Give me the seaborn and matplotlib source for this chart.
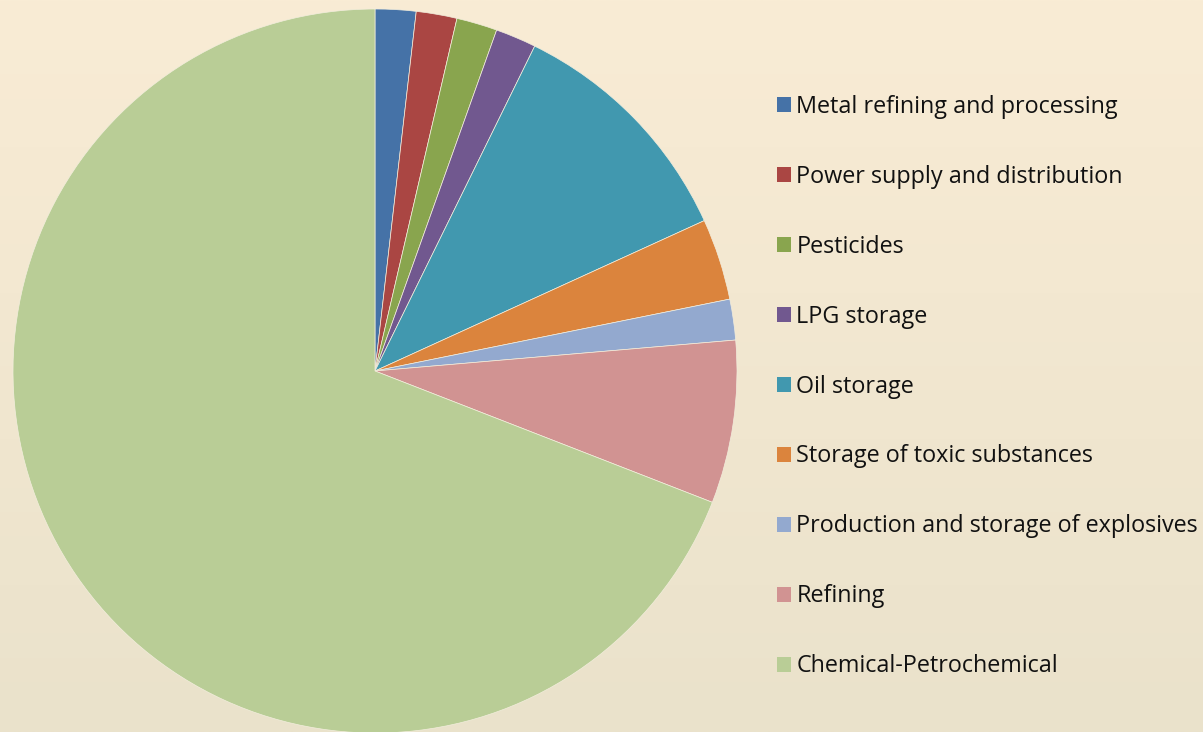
import numpy as np
import matplotlib
matplotlib.use("Agg")
import matplotlib.pyplot as plt
from matplotlib.patches import Patch
import seaborn as sns

categories = [
    "Metal refining and processing",
    "Power supply and distribution",
    "Pesticides",
    "LPG storage",
    "Oil storage",
    "Storage of toxic substances",
    "Production and storage of explosives",
    "Refining",
    "Chemical-Petrochemical",
]
counts = [1, 1, 1, 1, 6, 2, 1, 4, 38]
slice_colors = ["#4572A7", "#AA4643", "#89A54E", "#71588F", "#4198AF",
                "#DB843D", "#93A9CF", "#D19392", "#B9CD96"]

sns.set_style("white")
plt.rcParams["font.family"] = ["Open Sans", "DejaVu Sans"]
palette = sns.color_palette(slice_colors)

W, H = 1203, 732
fig = plt.figure(figsize=(W / 100, H / 100), dpi=100)

# soft vertical background gradient
bg = fig.add_axes([0, 0, 1, 1], zorder=0)
top = np.array([0xF9, 0xEC, 0xD5]) / 255
bot = np.array([0xEA, 0xE2, 0xCB]) / 255
t = np.linspace(0, 1, 256)[:, None, None]
grad = top * (1 - t) + bot * t
bg.imshow(np.repeat(grad, 2, axis=1), aspect="auto", extent=[0, 1, 0, 1])
bg.axis("off")

cx, cy, r = 375, 371, 362
ax = fig.add_axes([(cx - r) / W, (H - cy - r) / H, 2 * r / W, 2 * r / H], zorder=1)
ax.set_facecolor("none")
ax.pie(counts, colors=palette, startangle=90, counterclock=False, radius=1,
       wedgeprops=dict(edgecolor="#F3EEDD", linewidth=0.5))
ax.set_xlim(-1, 1)
ax.set_ylim(-1, 1)
ax.set_aspect("equal")
ax.axis("off")

handles = [Patch(facecolor=c, edgecolor="none") for c in palette]
leg = fig.legend(handles, categories, loc="upper left",
                 bbox_to_anchor=(765 / W, 1 - 83 / H), frameon=False,
                 fontsize=16.8, handlelength=0.62, handleheight=0.62,
                 handletextpad=0.22, labelspacing=1.97, borderpad=0)
for txt in leg.get_texts():
    txt.set_color("#111111")

fig.savefig("out.png", dpi=100)
